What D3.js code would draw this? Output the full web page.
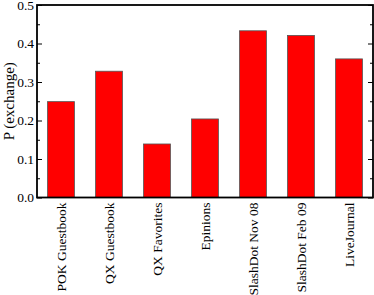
<!DOCTYPE html>
<html>
<head>
<meta charset="utf-8">
<script src="https://cdn.jsdelivr.net/npm/d3@7"></script>
<style>
  body { margin: 0; background: #fff; }
</style>
</head>
<body>
<div id="chart"></div>
<script>
// data
let sites = ["POK Guestbook", "QX Guestbook", "QX Favorites", "Epinions",
             "SlashDot Nov 08", "SlashDot Feb 09", "LiveJournal"]
let pExchange = [0.249, 0.328, 0.139, 0.204, 0.433, 0.421, 0.360]
let yTicks = [0, 0.1, 0.2, 0.3, 0.4, 0.5]
let yMinor = [0.05, 0.15, 0.25, 0.35, 0.45]

let font = "'Liberation Serif', 'Times New Roman', serif"

let svgWidth = 374
let svgHeight = 295
let margin = { top: 5, right: 1, bottom: 97.5, left: 37 }
let width = svgWidth - margin.left - margin.right
let height = svgHeight - margin.top - margin.bottom

let svg = d3.select("#chart").append("svg")
    .attr("width", svgWidth).attr("height", svgHeight)

let chartGroup = svg.append("g")
    .attr("transform", `translate(${margin.left}, ${margin.top})`)

let x = d3.scaleBand().domain(sites).range([0, width]).paddingInner(0.44).paddingOuter(0.22)
let y = d3.scaleLinear().domain([0, 0.5]).range([height, 0])

// bars
chartGroup.selectAll("rect.bar")
    .data(sites)
    .enter().append("rect")
    .attr("class", "bar")
    .attr("x", d => x(d))
    .attr("width", x.bandwidth())
    .attr("y", (d, i) => y(pExchange[i]))
    .attr("height", (d, i) => height - y(pExchange[i]))
    .attr("fill", "#ff0000")
    .attr("stroke", "#555")
    .attr("stroke-width", 0.8)

// left axis, ticks pointing in
let left = chartGroup.append("g")
    .call(d3.axisLeft(y).tickValues(yTicks).tickFormat(d3.format(".1f")).tickSizeInner(-5).tickSizeOuter(0).tickPadding(3))
left.select(".domain").remove()
left.selectAll("text").style("font-family", font).style("font-size", "13.5px").attr("fill", "#000")
chartGroup.append("g")
    .call(d3.axisLeft(y).tickValues(yMinor).tickFormat("").tickSizeInner(-3).tickSizeOuter(0))
    .select(".domain").remove()

// right axis, ticks pointing in
let right = chartGroup.append("g").attr("transform", `translate(${width},0)`)
right.call(d3.axisRight(y).tickValues(yTicks).tickFormat("").tickSizeInner(-5).tickSizeOuter(0))
right.select(".domain").remove()
chartGroup.append("g").attr("transform", `translate(${width},0)`)
    .call(d3.axisRight(y).tickValues(yMinor).tickFormat("").tickSizeInner(-3).tickSizeOuter(0))
    .select(".domain").remove()

// x axis with rotated labels
let bottom = chartGroup.append("g").attr("transform", `translate(0,${height})`)
    .call(d3.axisBottom(x).tickSize(0).tickPadding(0))
bottom.select(".domain").remove()
bottom.selectAll("text")
    .style("font-family", font)
    .style("font-size", "13.5px")
    .attr("fill", "#000")
    .attr("text-anchor", "end")
    .attr("dy", "0.35em")
    .attr("transform", "translate(0,5) rotate(-90)")
    .attr("x", 0).attr("y", 0)

// frame
chartGroup.append("rect")
    .attr("width", width).attr("height", height)
    .attr("fill", "none").attr("stroke", "#000").attr("stroke-width", 1.8)

// y title
svg.append("text")
    .attr("transform", `translate(14, ${margin.top + height / 2}) rotate(-90)`)
    .attr("text-anchor", "middle")
    .style("font-family", font)
    .style("font-size", "15px")
    .text("P (exchange)")
</script>
</body>
</html>
